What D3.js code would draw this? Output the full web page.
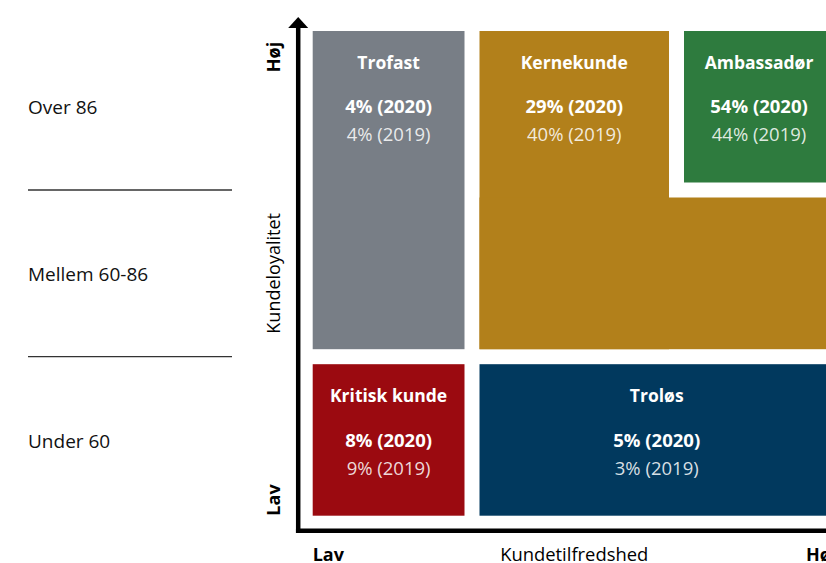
<!DOCTYPE html>
<html>
<head>
<meta charset="utf-8">
<script src="https://cdn.jsdelivr.net/npm/d3@7"></script>
<style>
    body { margin: 0; background: #fff; }
    text { font-family: "Open Sans", "Noto Sans", sans-serif; }
</style>
</head>
<body>
<div id="chart"></div>
<script>
// segment names and shares
const segments = ["Trofast", "Kernekunde", "Ambassadør", "Kritisk kunde", "Troløs"];
const share2020 = [4, 29, 54, 8, 5];
const share2019 = [4, 40, 44, 9, 3];
const loyaltyBands = ["Under 60", "Mellem 60-86", "Over 86"];

// grid cells per segment: [col0, col1, row0, row1] (0 = lav)
const cells = [
    [[0, 1, 1, 3]],
    [[1, 2, 1, 3], [1, 3, 1, 2]],
    [[2, 3, 2, 3]],
    [[0, 1, 0, 1]],
    [[1, 3, 0, 1]]
];
const colors = ["#787e86", "#b2801b", "#2e7b3e", "#9b0a10", "#01395e"];

let width = 826, height = 563;
let gap = 7.5;

var svg = d3.select("#chart")
    .append("svg")
    .attr("width", width)
    .attr("height", height);

// piecewise scales for the grid edges
var x = d3.scaleLinear()
    .domain([0, 1, 2, 3])
    .range([305.2, 472, 676.5, 841.5]);

var y = d3.scaleLinear()
    .domain([0, 1, 2, 3])
    .range([523.2, 356.7, 190, 23.5]);

var data = segments.map((name, i) => ({
    name: name,
    v2020: share2020[i],
    v2019: share2019[i],
    color: colors[i],
    cells: cells[i]
}));

// blocks
data.forEach(d => {
    svg.append("g")
        .selectAll("rect")
        .data(d.cells)
        .enter()
        .append("rect")
        .attr("x", c => x(c[0]) + gap)
        .attr("y", c => y(c[3]) + gap)
        .attr("width", c => x(c[1]) - x(c[0]) - gap * 2)
        .attr("height", c => y(c[2]) - y(c[3]) - gap * 2)
        .style("fill", d.color);
});

// labels inside the first cell of each segment
var label = svg.selectAll(".seglabel")
    .data(data)
    .enter()
    .append("g")
    .attr("class", "seglabel")
    .attr("transform", d => {
        let c = d.cells[0];
        return "translate(" + ((x(c[0]) + x(c[1])) / 2) + "," + (y(c[3]) + gap) + ")";
    })
    .style("fill", "#fff")
    .attr("text-anchor", "middle");

label.append("text")
    .attr("y", 32)
    .attr("dy", "0.35em")
    .style("font-weight", "bold")
    .style("font-size", "17.5px")
    .text(d => d.name);

label.append("text")
    .attr("y", 76)
    .attr("dy", "0.35em")
    .style("font-weight", "bold")
    .style("font-size", "18.5px")
    .text(d => d.v2020 + "% (2020)");

label.append("text")
    .attr("y", 104)
    .attr("dy", "0.35em")
    .style("font-size", "18.5px")
    .style("fill-opacity", 0.85)
    .text(d => d.v2019 + "% (2019)");

// axes
let axisX = x(0) - 7, axisY = y(0) + 7.5;

svg.append("line")
    .attr("x1", axisX).attr("y1", axisY + 2)
    .attr("x2", axisX).attr("y2", y(3) + 3)
    .style("stroke", "#000")
    .style("stroke-width", 4.5);

svg.append("path")
    .attr("d", "M" + axisX + "," + (y(3) - 6.5) + "L" + (axisX - 10) + "," + (y(3) + 4.5) + "L" + (axisX + 10) + "," + (y(3) + 4.5) + "Z")
    .style("fill", "#000");

svg.append("line")
    .attr("x1", axisX - 2.25).attr("y1", axisY)
    .attr("x2", width + 10).attr("y2", axisY)
    .style("stroke", "#000")
    .style("stroke-width", 4.5);

// y axis titles
function vtext(ty, txt, bold) {
    svg.append("text")
        .attr("transform", "translate(" + 274 + "," + ty + ") rotate(-90)")
        .attr("text-anchor", "middle")
        .attr("dy", "0.35em")
        .style("font-weight", bold ? "bold" : "normal")
        .style("font-size", "18px")
        .style("fill", "#000")
        .text(txt);
}
vtext(57, "Høj", true);
vtext(500, "Lav", true);
vtext((y(0) + y(3)) / 2, "Kundeloyalitet", false);

// x axis titles
svg.append("text")
    .attr("x", x(0) + gap).attr("y", 555).attr("dy", "0.35em")
    .style("font-weight", "bold").style("font-size", "18px")
    .text("Lav");

svg.append("text")
    .attr("x", (x(1) + x(2)) / 2).attr("y", 555).attr("dy", "0.35em")
    .attr("text-anchor", "middle")
    .style("font-size", "18.4px")
    .text("Kundetilfredshed");

svg.append("text")
    .attr("x", 806).attr("y", 555).attr("dy", "0.35em")
    .style("font-weight", "bold").style("font-size", "18px")
    .text("Høj");

// loyalty band legend on the left
svg.selectAll(".band")
    .data(loyaltyBands)
    .enter()
    .append("text")
    .attr("class", "band")
    .attr("x", 28)
    .attr("y", (d, i) => (y(i) + y(i + 1)) / 2 + 1)
    .attr("dy", "0.35em")
    .style("font-size", "19px")
    .style("fill", "#111")
    .text(d => d);

svg.selectAll(".sep")
    .data([1, 2])
    .enter()
    .append("line")
    .attr("x1", 28).attr("x2", 232)
    .attr("y1", d => y(d)).attr("y2", d => y(d))
    .style("stroke", "#333")
    .style("stroke-width", 1.3);
</script>
</body>
</html>
